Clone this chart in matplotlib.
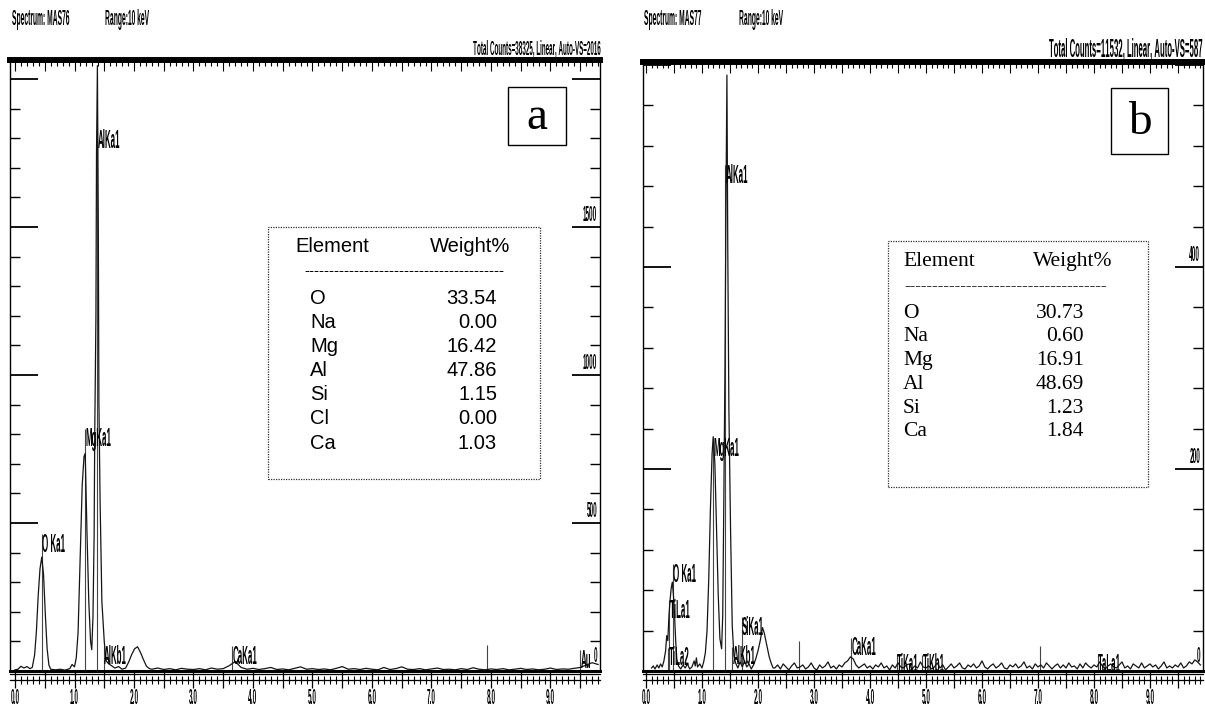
import os
import numpy as np
import matplotlib
matplotlib.use("Agg")
import matplotlib.pyplot as plt
from matplotlib import font_manager
from matplotlib.font_manager import FontProperties
from matplotlib.patches import Rectangle
from matplotlib.ticker import MultipleLocator
import matplotlib.transforms as mtransforms

# ------------------------------------------------------------------ data
# Panel a : spectrum MAS76 (energy keV, counts)
A_PEAK_E = [0.00, 0.05, 0.10, 0.15, 0.20, 0.25, 0.29, 0.33, 0.36, 0.39, 0.42, 0.45,
            0.48, 0.51, 0.54, 0.57, 0.60, 0.68, 0.76, 0.84, 0.92, 0.96, 1.00, 1.03,
            1.06, 1.09, 1.13, 1.16, 1.18, 1.21, 1.24, 1.27, 1.29, 1.31, 1.33, 1.34,
            1.36, 1.37, 1.385, 1.40, 1.41, 1.43, 1.46, 1.50, 1.53, 1.57, 1.62, 1.68,
            1.74, 1.80, 1.86, 1.91, 1.96, 2.01, 2.06, 2.11, 2.16, 2.21, 2.26]
A_PEAK_C = [4, 6, 16, 10, 15, 8, 12, 55, 135, 255, 345, 385,
            325, 190, 75, 20, 6, 4, 6, 3, 8, 22, 14, 45,
            130, 345, 630, 725, 735, 465, 235, 100, 72, 180, 460, 800,
            1200, 1750, 2045, 1500, 910, 575, 235, 100, 35, 25, 18, 10,
            15, 6, 10, 30, 55, 75, 82, 62, 38, 16, 8]
A_BASE_START, A_BASE_STEP = 2.30, 0.10
A_BASE_C = [6, 10, 5, 8, 4, 9, 6, 5, 8, 4,
            10, 6, 8, 18, 32, 12, 6, 9, 5, 8,
            12, 5, 7, 4, 9, 14, 6, 8, 5, 7,
            4, 9, 15, 6, 8, 5, 9, 6, 4, 12,
            5, 8, 14, 6, 5, 8, 4, 7, 10, 5,
            6, 4, 8, 5, 11, 6, 4, 7, 5, 8,
            4, 6, 9, 5, 7, 4, 6, 10, 5, 7,
            6, 9, 12, 20, 28, 22]
A_MARK_E = [0.45, 1.17, 1.38, 1.49, 3.65, 7.93, 9.50]
A_MARK_H = [463, 818, 1828, 84, 84, 88, 71]
A_MARK_LABEL = ["O Ka1", "MgKa1", "AlKa1", "AlKb1", "CaKa1", "", "Au"]
A_Y_LABELS = [0, 500, 1000, 1500]
A_TABLE_ELEM = ["O", "Na", "Mg", "Al", "Si", "Cl", "Ca"]
A_TABLE_WT = [33.54, 0.00, 16.42, 47.86, 1.15, 0.00, 1.03]
A_HEADER = ["Spectrum: MAS76", "Range:10 keV", "Total Counts=38325, Linear, Auto-VS=2016"]

# Panel b : spectrum MAS77
B_PEAK_E = [0.10, 0.13, 0.16, 0.20, 0.23, 0.26, 0.29, 0.32, 0.35, 0.37, 0.39, 0.41,
            0.43, 0.45, 0.47, 0.49, 0.51, 0.53, 0.55, 0.58, 0.62, 0.66, 0.70, 0.74,
            0.78, 0.82, 0.86, 0.88, 0.90, 0.92, 0.96, 1.00, 1.03, 1.06, 1.09, 1.12,
            1.15, 1.18, 1.20, 1.23, 1.26, 1.29, 1.32, 1.35, 1.37, 1.39, 1.41, 1.43,
            1.445, 1.46, 1.48, 1.51, 1.54, 1.57, 1.60, 1.64, 1.68, 1.72, 1.76, 1.80,
            1.84, 1.88, 1.92, 1.96, 2.00, 2.04, 2.08, 2.11, 2.14, 2.17, 2.20, 2.24, 2.27]
B_PEAK_C = [3, 5, 2, 6, 3, 7, 4, 10, 20, 35, 30, 55,
            70, 82, 88, 75, 55, 30, 12, 5, 2, 6, 3, 7,
            2, 4, 10, 5, 13, 4, 7, 3, 9, 18, 40, 90,
            160, 215, 232, 205, 140, 75, 32, 22, 55, 170, 300, 480,
            590, 420, 260, 140, 45, 15, 8, 3, 9, 4, 10, 4,
            7, 2, 6, 12, 20, 30, 43, 38, 30, 22, 14, 7, 3]
B_BASE_START, B_BASE_STEP = 2.30, 0.05
B_BASE_C = [3, 6, 2, 7, 4, 1, 5, 8, 3, 4, 6,
            2, 4, 8, 3, 1, 6, 3, 5, 9, 3, 5,
            2, 6, 4, 8, 10, 14, 12, 6, 3, 5, 7,
            3, 5, 2, 6, 4, 8, 3, 5, 1, 6, 3,
            8, 4, 3, 6, 7, 2, 5, 3, 9, 4, 3,
            5, 2, 4, 8, 3, 6, 1, 4, 7, 3, 5,
            8, 3, 2, 6, 4, 7, 3, 5, 10, 4, 2,
            5, 7, 3, 5, 8, 3, 2, 6, 4, 7, 3,
            5, 9, 3, 5, 2, 7, 4, 6, 3, 8, 5,
            2, 5, 7, 3, 6, 3, 8, 4, 5, 2, 7,
            3, 8, 5, 3, 6, 4, 9, 5, 2, 5, 7,
            4, 3, 6, 9, 3, 5, 2, 7, 5, 3, 8,
            3, 5, 7, 4, 6, 2, 5, 9, 3, 5, 3,
            6, 4, 8, 3, 5, 9, 7, 11, 9, 6]
B_MARK_E = [0.41, 0.40, 0.48, 1.20, 1.41, 1.54, 1.71, 2.73, 3.66, 4.48, 4.93, 7.04, 8.07]
B_MARK_H = [70, 23, 106, 230, 501, 24, 53, 30, 33, 16, 16, 25, 16]
B_MARK_LABEL = ["TiLa1", "TiLa2", "O Ka1", "MgKa1", "AlKa1", "AlKb1", "SiKa1", "",
                "CaKa1", "TiKa1", "TiKb1", "", "TaLa1"]
B_Y_LABELS = [0, 200, 400]
B_TABLE_ELEM = ["O", "Na", "Mg", "Al", "Si", "Ca"]
B_TABLE_WT = [30.73, 0.60, 16.91, 48.69, 1.23, 1.84]
B_HEADER = ["Spectrum: MAS77", "Range:10 keV", "Total Counts=11532, Linear, Auto-VS=587"]

X_LABEL_VALUES = [0, 1, 2, 3, 4, 5, 6, 7, 8, 9]
X_LABEL_TEXT = ["0.0", "1.0", "2.0", "3.0", "4.0", "5.0", "6.0", "7.0", "8.0", "9.0"]

# ------------------------------------------------------------------ fonts
COND_PATH = None
try:
    from fontTools.ttLib import TTFont
    src = font_manager.findfont(FontProperties(family="Liberation Sans", weight="bold"),
                                fallback_to_default=False)
    SX = 0.30
    f = TTFont(src)
    glyf = f["glyf"]
    for name in f.getGlyphOrder():
        g = glyf[name]
        if g.isComposite():
            for c in g.components:
                c.x = int(round(c.x * SX))
        elif g.numberOfContours > 0:
            coords = g.coordinates
            for i in range(len(coords)):
                x, y = coords[i]
                coords[i] = (int(round(x * SX)), int(y))
            g.recalcBounds(glyf)
    hm = f["hmtx"].metrics
    for name in list(hm.keys()):
        adv, lsb = hm[name]
        hm[name] = (int(round(adv * SX)), int(round(lsb * SX)))
    for tag in ("kern", "GPOS", "hdmx", "LTSH", "VDMX"):
        if tag in f:
            del f[tag]
    COND_PATH = os.path.abspath("condensed_sans.ttf")
    f.save(COND_PATH)
except Exception:
    COND_PATH = None


def cond(size):
    if COND_PATH:
        return FontProperties(fname=COND_PATH, size=size)
    return FontProperties(family=["Liberation Sans Narrow", "DejaVu Sans"],
                          stretch="condensed", size=size * 0.5)


SANS = "Liberation Sans"
SERIF = "Liberation Serif"
LBL = 19     # peak labels
TCK = 15.5   # axis numbers

# ------------------------------------------------------------------ layout
W, H = 1205, 710
fig = plt.figure(figsize=(W / 100, H / 100), dpi=100)
fig.patch.set_facecolor("white")


def fx(px):
    return px / W


def fy(py):
    return 1 - py / H


def rect(x0, y0, x1, y1):
    return [fx(x0), fy(y1), fx(x1) - fx(x0), fy(y0) - fy(y1)]


def panel(L, R, TOP, BASE, x0px, pxkev, pxcount, ystep,
          pe, pc, bstart, bstep, bc, me, mh, ml, ylabels):
    ax = fig.add_axes(rect(L, TOP, R, BASE))
    e = list(pe) + list(np.round(bstart + bstep * np.arange(len(bc)), 3))
    c = list(pc) + list(bc)
    ax.plot(e, c, color="#151515", lw=0.9, zorder=3)
    xmin = -(x0px - L) / pxkev
    xmax = (R - x0px) / pxkev
    ax.set_xlim(xmin, xmax)
    ax.set_ylim(0, (BASE - TOP) / pxcount)
    ax.spines["top"].set_linewidth(4.3)
    ax.spines["bottom"].set_linewidth(2.2)
    ax.spines["left"].set_linewidth(1.0)
    ax.spines["right"].set_linewidth(1.0)
    ax.xaxis.set_major_locator(MultipleLocator(0.5))
    ax.xaxis.set_minor_locator(MultipleLocator(0.1))
    ax.tick_params(axis="x", which="both", bottom=False, top=True,
                   labelbottom=False, direction="in")
    ax.tick_params(axis="x", which="major", length=8, width=0.8)
    ax.tick_params(axis="x", which="minor", length=4.5, width=0.8)
    ax.yaxis.set_major_locator(MultipleLocator(ystep))
    ax.yaxis.set_minor_locator(MultipleLocator(ystep / 5))
    ax.tick_params(axis="y", which="both", left=True, right=True,
                   labelleft=False, labelright=False, direction="in")
    ax.tick_params(axis="y", which="major", length=20, width=1.3)
    ax.tick_params(axis="y", which="minor", length=7, width=1.0)
    # KLM markers
    ax.vlines(me, 0, mh, color="#444", lw=0.8, zorder=2)
    for xe, hh, lab in zip(me, mh, ml):
        if lab:
            ax.annotate(lab, xy=(xe, hh), xytext=(0.3, 1), textcoords="offset points",
                        ha="left", va="top", fontproperties=cond(LBL), zorder=4)
    blend = mtransforms.blended_transform_factory(ax.transAxes, ax.transData)
    for v in ylabels:
        ax.annotate(str(v), xy=(1, v), xycoords=blend, xytext=(-2, 1 if v else 3),
                    textcoords="offset points", ha="right", va="bottom",
                    fontproperties=cond(TCK))
    # bottom scale strip
    sx = fig.add_axes(rect(L, BASE + 3, R, BASE + 9))
    sx.set_xlim(xmin, xmax)
    sx.set_ylim(0, 1)
    sx.set_yticks([])
    for s in ("left", "right"):
        sx.spines[s].set_visible(False)
    sx.spines["top"].set_linewidth(0.9)
    sx.spines["bottom"].set_linewidth(0.9)
    major = [v / 2 for v in range(0, 20) if v / 2 < xmax]
    labmap = dict(zip(X_LABEL_VALUES, X_LABEL_TEXT))
    sx.set_xticks(major, [labmap.get(v, "") for v in major])
    sx.xaxis.set_minor_locator(MultipleLocator(0.1))
    sx.tick_params(axis="x", which="major", direction="inout", length=11, width=0.9, pad=0)
    sx.tick_params(axis="x", which="minor", direction="inout", length=6, width=0.8)
    for t in sx.get_xticklabels():
        t.set_fontproperties(cond(TCK))
    return ax


ax_a = panel(10, 600, 60, 671, 15, 59.5, 0.296, 500,
             A_PEAK_E, A_PEAK_C, A_BASE_START, A_BASE_STEP, A_BASE_C,
             A_MARK_E, A_MARK_H, A_MARK_LABEL, A_Y_LABELS)
ax_b = panel(643, 1203, 62, 671, 646, 56.0, 1.01, 200,
             B_PEAK_E, B_PEAK_C, B_BASE_START, B_BASE_STEP, B_BASE_C,
             B_MARK_E, B_MARK_H, B_MARK_LABEL, B_Y_LABELS)

# ------------------------------------------------------------------ headers
fig.text(fx(12), fy(20), A_HEADER[0], ha="left", va="center", fontproperties=cond(16))
fig.text(fx(105), fy(20), A_HEADER[1], ha="left", va="center", fontproperties=cond(16))
fig.text(fx(601), fy(50), A_HEADER[2], ha="right", va="center", fontproperties=cond(15))
fig.text(fx(644), fy(20), B_HEADER[0], ha="left", va="center", fontproperties=cond(16))
fig.text(fx(739), fy(20), B_HEADER[1], ha="left", va="center", fontproperties=cond(16))
fig.text(fx(1203), fy(50), B_HEADER[2], ha="right", va="center", fontproperties=cond(18.5))

# ------------------------------------------------------------------ panel letters
for (x0, y0, x1, y1, letter) in [(508, 87, 566, 145, "a"), (1111, 88, 1168, 154, "b")]:
    fig.add_artist(Rectangle((fx(x0), fy(y1)), fx(x1) - fx(x0), fy(y0) - fy(y1),
                             transform=fig.transFigure, fill=False, lw=1.0, ec="black"))
    fig.text(fx((x0 + x1) / 2), fy((y0 + y1) / 2 + 2), letter, ha="center", va="center",
             family=SERIF, fontsize=34)

# ------------------------------------------------------------------ tables
# table a (sans)
fig.add_artist(Rectangle((fx(268), fy(479)), fx(540) - fx(268), fy(227) - fy(479),
                         transform=fig.transFigure, fill=False, lw=0.9, ls=(0, (1, 1)),
                         ec="#333"))
fig.text(fx(295), fy(247), "Element", ha="left", va="center", family=SANS, fontsize=14.5)
fig.text(fx(510), fy(247), "Weight%", ha="right", va="center", family=SANS, fontsize=14.5)
fig.text(fx(304), fy(271), "-" * 40, ha="left", va="center", family=SANS, fontsize=11)
for i, (el, wt) in enumerate(zip(A_TABLE_ELEM, A_TABLE_WT)):
    y = 298 + 24.2 * i
    fig.text(fx(310), fy(y), el, ha="left", va="center", family=SANS, fontsize=14.5)
    fig.text(fx(497), fy(y), f"{wt:.2f}", ha="right", va="center", family=SANS, fontsize=14.5)

# table b (serif)
fig.add_artist(Rectangle((fx(888), fy(487)), fx(1148) - fx(888), fy(241) - fy(487),
                         transform=fig.transFigure, fill=False, lw=0.9, ls=(0, (1, 1)),
                         ec="#333"))
fig.text(fx(903), fy(262), "Element", ha="left", va="center", family=SERIF, fontsize=15.5)
fig.text(fx(1112), fy(262), "Weight%", ha="right", va="center", family=SERIF, fontsize=15.5)
fig.text(fx(904), fy(286), "-" * 36, ha="left", va="center", family=SERIF, fontsize=12)
for i, (el, wt) in enumerate(zip(B_TABLE_ELEM, B_TABLE_WT)):
    y = 313 + 23.8 * i
    fig.text(fx(903), fy(y), el, ha="left", va="center", family=SERIF, fontsize=15.5)
    fig.text(fx(1084), fy(y), f"{wt:.2f}", ha="right", va="center", family=SERIF, fontsize=15.5)

fig.savefig("out.png", dpi=100, facecolor="white")
